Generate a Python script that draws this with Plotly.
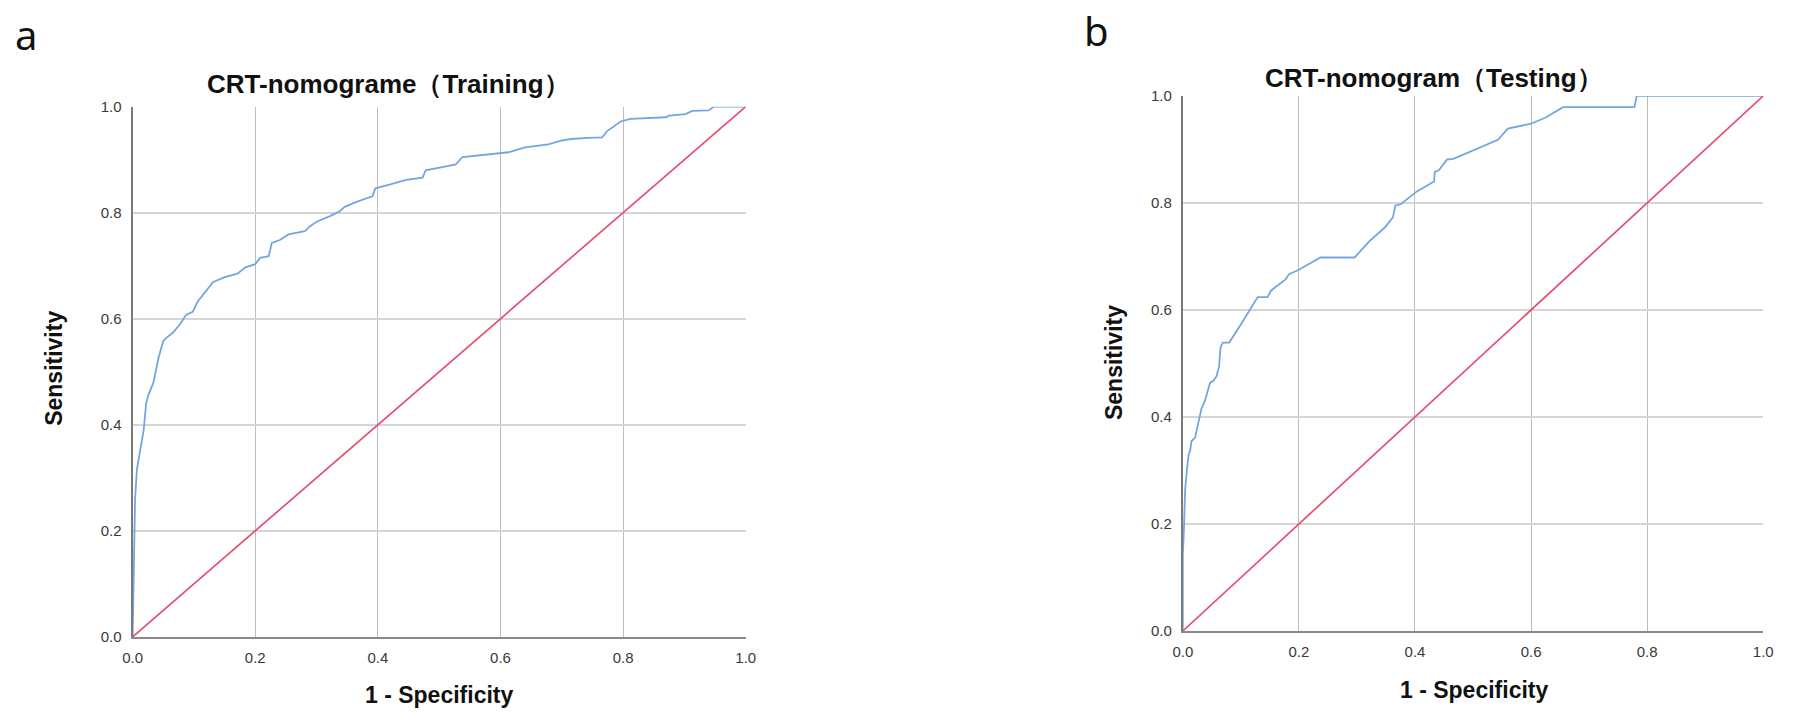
import plotly.graph_objects as go

W, H = 1797, 723

# ROC points (1 - specificity, sensitivity)
train_fpr = [0.0, 0.002, 0.003, 0.004, 0.007, 0.012, 0.018, 0.022, 0.026, 0.034, 0.042, 0.05, 0.055,
             0.066, 0.077, 0.087, 0.098, 0.106, 0.12, 0.131, 0.149, 0.171, 0.184, 0.2, 0.208, 0.222,
             0.227, 0.241, 0.254, 0.281, 0.289, 0.3, 0.321, 0.337, 0.346, 0.364, 0.391, 0.396, 0.419,
             0.435, 0.446, 0.473, 0.478, 0.505, 0.527, 0.538, 0.565, 0.592, 0.613, 0.64, 0.678, 0.699,
             0.715, 0.742, 0.766, 0.774, 0.796, 0.812, 0.832, 0.87, 0.875, 0.902, 0.913, 0.94, 0.948, 1.0]
train_tpr = [0.0, 0.1, 0.2, 0.26, 0.316, 0.353, 0.39, 0.44, 0.457, 0.48, 0.525, 0.558, 0.564,
             0.574, 0.589, 0.607, 0.613, 0.632, 0.653, 0.669, 0.678, 0.685, 0.697, 0.703, 0.715, 0.718,
             0.743, 0.749, 0.759, 0.765, 0.774, 0.783, 0.793, 0.802, 0.811, 0.82, 0.831, 0.846, 0.853,
             0.859, 0.862, 0.866, 0.88, 0.886, 0.891, 0.905, 0.908, 0.911, 0.914, 0.923, 0.929, 0.936,
             0.939, 0.941, 0.942, 0.954, 0.972, 0.977, 0.978, 0.98, 0.983, 0.986, 0.992, 0.993, 1.0, 1.0]

test_fpr = [0.0, 0.0, 0.002, 0.004, 0.007, 0.01, 0.0125, 0.015, 0.021, 0.027, 0.032, 0.038, 0.0435,
            0.047, 0.052, 0.058, 0.0625, 0.065, 0.069, 0.08, 0.1, 0.129, 0.146, 0.152, 0.161, 0.177,
            0.183, 0.2, 0.237, 0.296, 0.322, 0.348, 0.362, 0.366, 0.376, 0.404, 0.433, 0.434, 0.441,
            0.455, 0.467, 0.543, 0.56, 0.6, 0.626, 0.64, 0.655, 0.778, 0.782, 1.0]
test_tpr = [0.0, 0.142, 0.191, 0.264, 0.3, 0.33, 0.336, 0.355, 0.361, 0.391, 0.415, 0.43, 0.452,
            0.464, 0.467, 0.476, 0.494, 0.53, 0.539, 0.539, 0.573, 0.624, 0.624, 0.636, 0.644, 0.657,
            0.667, 0.675, 0.698, 0.698, 0.729, 0.754, 0.773, 0.795, 0.798, 0.822, 0.84, 0.858, 0.861,
            0.881, 0.883, 0.918, 0.939, 0.948, 0.96, 0.969, 0.979, 0.979, 1.0, 1.0]

ref_line = [0.0, 1.0]
tick_vals = [0.0, 0.2, 0.4, 0.6, 0.8, 1.0]
titles = ["CRT-nomograme（Training）", "CRT-nomogram（Testing）"]
panel_tags = ["a", "b"]

BLUE = "#74a5e2"
RED = "#e34f72"

fig = go.Figure()
fig.add_trace(go.Scatter(x=train_fpr, y=train_tpr, mode="lines", line=dict(color=BLUE, width=1.8),
                         xaxis="x", yaxis="y", showlegend=False))
fig.add_trace(go.Scatter(x=ref_line, y=ref_line, mode="lines", line=dict(color=RED, width=1.7),
                         xaxis="x", yaxis="y", showlegend=False))
fig.add_trace(go.Scatter(x=test_fpr, y=test_tpr, mode="lines", line=dict(color=BLUE, width=1.8),
                         xaxis="x2", yaxis="y2", showlegend=False))
fig.add_trace(go.Scatter(x=ref_line, y=ref_line, mode="lines", line=dict(color=RED, width=1.7),
                         xaxis="x2", yaxis="y2", showlegend=False))

tick_font = dict(family="Liberation Sans, Arial", size=15, color="#3a3a3a")


def xaxis_style(domain, anchor):
    return dict(domain=domain, anchor=anchor, range=[0, 1], tickvals=tick_vals, tickformat=".1f",
                showgrid=True, gridcolor="#bdbdbd", gridwidth=1.3, zeroline=False,
                showline=True, linecolor="#8a8a8a", linewidth=2, ticks="", ticklabelstandoff=6,
                tickfont=tick_font, fixedrange=True)


def yaxis_style(domain, anchor):
    return dict(domain=domain, anchor=anchor, range=[0, 1], tickvals=tick_vals, tickformat=".1f",
                showgrid=True, gridcolor="#d6d6d6", gridwidth=1.6, zeroline=False,
                showline=True, linecolor="#7a7a7a", linewidth=2, ticks="", ticklabelstandoff=6,
                tickfont=tick_font, fixedrange=True)


# plot areas in pixels: left 124..744 x 100..643, right 1186..1773 x 89..637
fig.update_layout(
    width=W, height=H,
    margin=dict(l=0, r=0, t=0, b=0),
    paper_bgcolor="white", plot_bgcolor="white",
    xaxis=xaxis_style([124 / W, 744 / W], "y"),
    yaxis=yaxis_style([1 - 643 / H, 1 - 100 / H], "x"),
    xaxis2=xaxis_style([1186 / W, 1773 / W], "y2"),
    yaxis2=yaxis_style([1 - 637 / H, 1 - 89 / H], "x2"),
)

title_font = dict(family="Liberation Sans, Arial", size=26, color="#111111")
label_font = dict(family="Liberation Sans, Arial", size=23, color="#111111")
tag_font = dict(family="Noto Sans", size=40, color="#111111")


def px(x, y):
    return dict(x=x / W, y=1 - y / H, xref="paper", yref="paper", showarrow=False,
                xanchor="center", yanchor="middle")


notes = [
    dict(text=panel_tags[0], font=tag_font, **px(16, 26)),
    dict(text=panel_tags[1], font=tag_font, **px(1099, 22)),
    dict(text="<b>" + titles[0] + "</b>", font=title_font, **px(383, 77)),
    dict(text="<b>" + titles[1] + "</b>", font=title_font, **px(1440, 71)),
    dict(text="<b>1 - Specificity</b>", font=label_font, **px(434, 703)),
    dict(text="<b>1 - Specificity</b>", font=label_font, **px(1480, 697)),
    dict(text="<b>Sensitivity</b>", font=label_font, textangle=-90, **px(45, 368)),
    dict(text="<b>Sensitivity</b>", font=label_font, textangle=-90, **px(1117, 362)),
]
fig.update_layout(annotations=notes)

fig.write_html("out.html", config={"displayModeBar": False},
               post_script="document.body.style.margin='0';")
